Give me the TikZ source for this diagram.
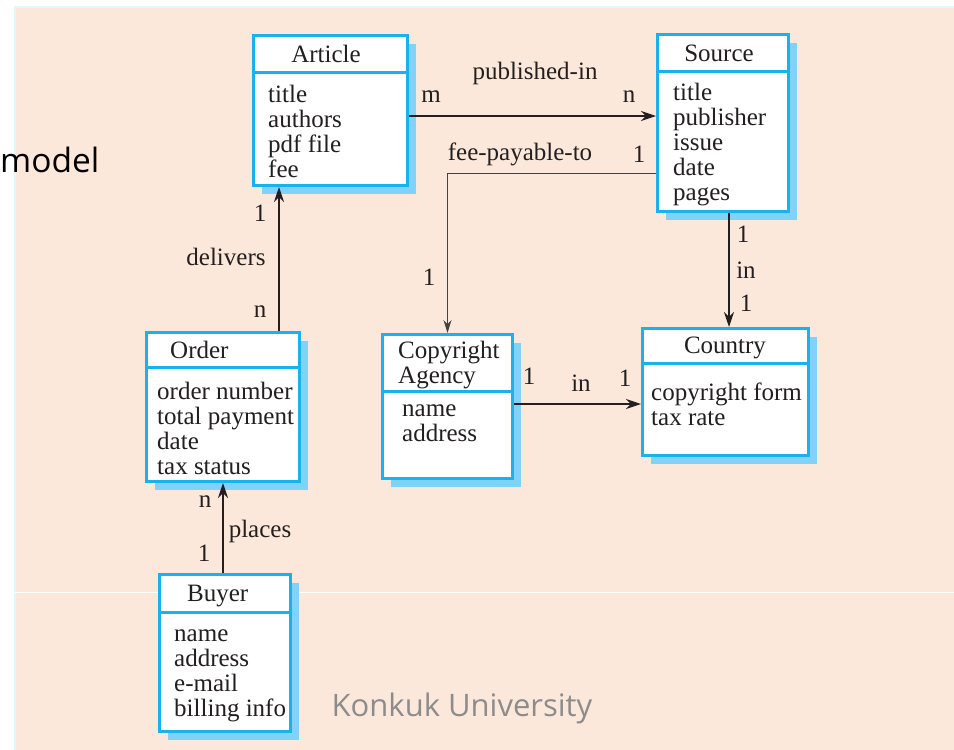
\documentclass[tikz,border=0pt]{standalone}
\usepackage{fontspec}
\setmainfont{Liberation Serif}
\newfontfamily\slidesans{Open Sans}
\usetikzlibrary{shadows,arrows.meta}
\definecolor{peach}{HTML}{FCE8DA}
\definecolor{edgecyan}{HTML}{DDFAFB}
\definecolor{boxblue}{HTML}{1AB2EE}
\definecolor{shadowblue}{HTML}{80D3F6}
\definecolor{ink}{HTML}{231F20}
\definecolor{slidegray}{HTML}{8C8C8C}
\begin{document}
\begin{tikzpicture}[x=1pt,y=-1pt,
  every node/.style={inner sep=0pt,text=ink},
  txt/.style={font=\fontsize{25}{25}\selectfont},
  cls/.style={draw=boxblue,line width=3pt,fill=white,
    drop shadow={shadow xshift=8pt,shadow yshift=-8pt,fill=shadowblue,opacity=1}},
  sep/.style={draw=boxblue,line width=3pt},
  attr/.style={txt,align=left,anchor=north west},
  conn/.style={draw=ink,line width=1.4pt,-{Stealth[length=15pt,width=10pt]}},
  thinconn/.style={draw=ink!85,line width=1pt,-{Stealth[length=13pt,width=8pt]}}]
\useasboundingbox (0,0) rectangle (954,750);
% background
\fill[peach] (15,8) rectangle (954,750);
\draw[edgecyan,line width=2.5pt] (15,750) -- (15,7) -- (954,7);
\draw[white,line width=1pt] (15,592) -- (954,592);
\node[anchor=west,font=\slidesans\fontsize{33.5}{36}\selectfont,text=black] (model) at (0,160) {model};
\node[font=\slidesans\fontsize{31}{36}\selectfont,text=slidegray] (konkuk) at (462,708) {Konkuk University};

% classes
\node[cls,minimum width=154,minimum height=150] (article) at (330.5,110.5) {};
\node[cls,minimum width=131,minimum height=177] (source) at (723,123) {};
\node[cls,minimum width=153,minimum height=149] (order) at (223,407) {};
\node[cls,minimum width=130,minimum height=144] (ca) at (447.5,406.5) {};
\node[cls,minimum width=166,minimum height=127] (country) at (725.5,392) {};
\node[cls,minimum width=131,minimum height=157] (buyer) at (225,653) {};

\draw[sep] ([yshift=-38pt]article.north west) -- ([yshift=-38pt]article.north east);
\draw[sep] ([yshift=-38pt]source.north west) -- ([yshift=-38pt]source.north east);
\draw[sep] ([yshift=-36pt]order.north west) -- ([yshift=-36pt]order.north east);
\draw[sep] ([yshift=-58pt]ca.north west) -- ([yshift=-58pt]ca.north east);
\draw[sep] ([yshift=-36pt]country.north west) -- ([yshift=-36pt]country.north east);
\draw[sep] ([yshift=-39pt]buyer.north west) -- ([yshift=-39pt]buyer.north east);

% headers
\node[txt,anchor=base] (articleT) at (326,62) {Article};
\node[txt,anchor=base] (sourceT) at (719,61) {Source};
\node[txt,anchor=base west] (orderT) at (170,358) {Order};
\node[attr] (caT) at (398,340) {\rule{0pt}{18pt}Copyright\\Agency};
\node[txt,anchor=base] (countryT) at (725,353) {Country};
\node[txt,anchor=base west] (buyerT) at (187,601) {Buyer};

% attributes
\node[attr] (articleA) at (268,84) {\rule{0pt}{18pt}title\\authors\\pdf file\\fee};
\node[attr] (sourceA) at (673,82) {\rule{0pt}{18pt}title\\publisher\\issue\\date\\pages};
\node[attr] (orderA) at (157,381) {\rule{0pt}{18pt}order number\\total payment\\date\\tax status};
\node[attr] (caA) at (402,398) {\rule{0pt}{18pt}name\\address};
\node[attr] (countryA) at (651,382) {\rule{0pt}{18pt}copyright form\\tax rate};
\node[attr] (buyerA) at (174,623) {\rule{0pt}{18pt}name\\address\\e-mail\\billing info};

% connectors
\draw[conn] ([yshift=-5.5pt]article.east) -- ([yshift=-5.5pt]article.east -| source.west);
\draw[thinconn] ([yshift=-50pt]source.west) -| (ca.north);
\draw[conn] ([xshift=3.5pt]country.north |- source.south) -- ([xshift=3.5pt]country.north);
\draw[conn] ([xshift=56pt]order.north) -- ([xshift=56pt]order.north |- article.south);
\draw[conn] ([yshift=2.5pt]ca.east) -- ([yshift=2.5pt]ca.east -| country.west);
\draw[conn] (buyer.north -| order.south) -- (order.south);

% labels
\node[txt] (lPub) at (535,73) {published-in};
\node[txt] (lPubM) at (431,97) {m};
\node[txt] (lPubN) at (629,97) {n};
\node[txt] (lFee) at (520,154) {fee-payable-to};
\node[txt] (lFee1) at (639,154) {1};
\node[txt] (lFee2) at (429,277) {1};
\node[txt] (lSc1) at (743,234) {1};
\node[txt] (lScIn) at (746,270) {in};
\node[txt] (lSc2) at (746,303) {1};
\node[txt] (lDel1) at (260,213) {1};
\node[txt] (lDel) at (226,257) {delivers};
\node[txt] (lDelN) at (260,312) {n};
\node[txt] (lCc1) at (529,376) {1};
\node[txt] (lCcIn) at (581,383) {in};
\node[txt] (lCc2) at (625,378) {1};
\node[txt] (lPlN) at (205,502) {n};
\node[txt] (lPl) at (260,531) {places};
\node[txt] (lPl1) at (204,553) {1};
\end{tikzpicture}
\end{document}
